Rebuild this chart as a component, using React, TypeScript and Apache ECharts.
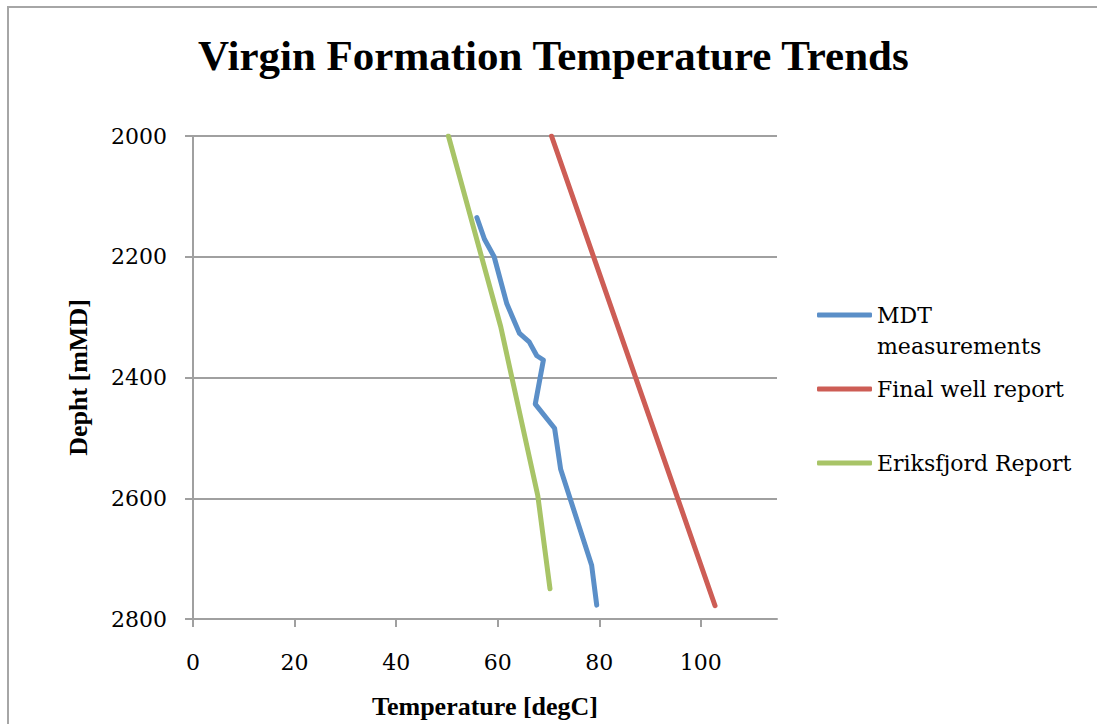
import React, { useEffect, useRef } from "react";
import * as echarts from "echarts";

// Depth (mMD) vs temperature (degC) series
const mdtTemp = [55.9, 57.4, 59.3, 61.8, 64.3, 66.2, 67.7, 69.0, 67.4, 71.2, 72.4, 78.5, 79.5];
const mdtDepth = [2135, 2171, 2200, 2278, 2327, 2341, 2364, 2371, 2444, 2484, 2552, 2711, 2777];

const fwrTemp = [70.6, 102.8];
const fwrDepth = [2000, 2778];

const erikTemp = [50.3, 60.6, 67.9, 70.3];
const erikDepth = [2000, 2316, 2596, 2750];

const xTicks = [0, 20, 40, 60, 80, 100];

const seriesNames = ["MDT measurements", "Final well report", "Eriksfjord Report"];
const colors = ["#5B8FC8", "#CD5D55", "#A8C467"];

const pairs = (xs: number[], ys: number[]) => xs.map((x, i) => [x, ys[i]]);

const labelFont = "DejaVu Serif";
const boldFont = "Liberation Serif";

export default function App() {
  const ref = useRef<HTMLDivElement>(null);

  useEffect(() => {
    if (!ref.current) return;
    const chart = echarts.init(ref.current, null, { renderer: "svg" });

    const legendText = {
      fontFamily: labelFont,
      fontSize: 22,
      color: "#000",
      lineHeight: 31,
    };
    // The first entry wraps onto two lines; a leading empty line keeps its
    // icon level with the first line of text.
    const mkLegend = (name: string, top: number) => ({
      data: [name],
      left: 817,
      top,
      padding: 0,
      itemWidth: 55,
      itemHeight: 5,
      itemGap: 0,
      icon: "roundRect",
      selectedMode: false,
      textStyle: legendText,
      formatter: name === seriesNames[0] ? () => " \nMDT\nmeasurements" : undefined,
    });

    chart.setOption({
      animation: false,
      backgroundColor: "#fff",
      title: {
        text: "Virgin Formation Temperature Trends",
        left: 193,
        top: 29,
        textStyle: {
          fontFamily: boldFont,
          fontWeight: "bold",
          fontSize: 43,
          color: "#000",
        },
      },
      graphic: [
        {
          type: "rect",
          shape: { x: 8, y: 7, width: 1300, height: 900 },
          style: { fill: "none", stroke: "#a6a6a6", lineWidth: 2 },
          silent: true,
        },
      ],
      legend: [
        mkLegend(seriesNames[0], 268.5),
        mkLegend(seriesNames[1], 373.5),
        mkLegend(seriesNames[2], 447.5),
      ],
      grid: { left: 193, top: 136, width: 584, height: 486, containLabel: false },
      xAxis: {
        type: "value",
        min: 0,
        max: 115,
        interval: 20,
        name: "Temperature [degC]",
        nameLocation: "middle",
        nameGap: 74,
        nameTextStyle: { fontFamily: boldFont, fontWeight: "bold", fontSize: 26, color: "#000" },
        axisLine: { onZero: false, lineStyle: { color: "#a0a0a0", width: 2 } },
        axisTick: { show: true, length: 8, lineStyle: { color: "#a0a0a0", width: 2 }, customValues: xTicks },
        axisLabel: {
          margin: 32,
          fontFamily: labelFont,
          fontSize: 22,
          color: "#000",
          customValues: xTicks,
        },
        splitLine: { show: false },
      },
      yAxis: {
        type: "value",
        min: 2000,
        max: 2800,
        interval: 200,
        inverse: true,
        name: "Depht [mMD]",
        nameLocation: "middle",
        nameGap: 102,
        nameRotate: 90,
        nameTextStyle: { fontFamily: boldFont, fontWeight: "bold", fontSize: 26, color: "#000" },
        axisLine: { show: true, lineStyle: { color: "#a0a0a0", width: 2 } },
        axisTick: { show: true, length: 8, lineStyle: { color: "#a0a0a0", width: 2 } },
        axisLabel: {
          margin: 26,
          fontFamily: labelFont,
          fontSize: 22,
          color: "#000",
          formatter: (v: number) => String(v),
        },
        splitLine: { show: true, lineStyle: { color: "#a0a0a0", width: 2 } },
      },
      series: [
        { name: seriesNames[0], data: pairs(mdtTemp, mdtDepth), color: colors[0] },
        { name: seriesNames[1], data: pairs(fwrTemp, fwrDepth), color: colors[1] },
        { name: seriesNames[2], data: pairs(erikTemp, erikDepth), color: colors[2] },
      ].map((s) => ({
        ...s,
        type: "line",
        showSymbol: false,
        symbol: "none",
        lineStyle: { width: 5, cap: "round", join: "round", color: s.color },
        itemStyle: { color: s.color },
      })),
    });

    return () => chart.dispose();
  }, []);

  return (
    <div
      ref={ref}
      style={{ position: "fixed", left: 0, top: 0, width: 1097, height: 724, background: "#fff" }}
    />
  );
}
